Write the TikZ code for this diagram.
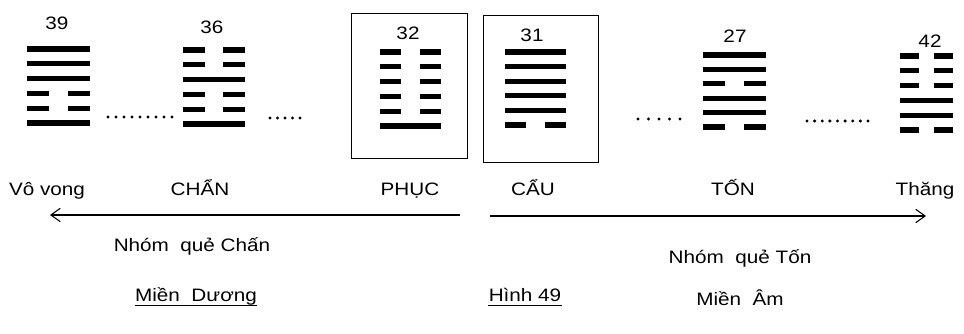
\documentclass[tikz,border=0pt]{standalone}
\usepackage{fontspec}
\setmainfont{Liberation Sans}
\usetikzlibrary{arrows.meta}
\newcommand\widetxt[1]{\scalebox{1.15}[1]{#1}}
\newcommand\hexa[5]{% #1 x left, #2 x right, #3 y top, #4 y step, #5 pattern
  \foreach \v [count=\i from 0] in {#5} {%
    \pgfmathsetmacro\yy{#3+\i*#4}%
    \pgfmathsetmacro\gl{#1+0.35*(#2-#1)}%
    \pgfmathsetmacro\gr{#1+0.65*(#2-#1)}%
    \ifnum\v=1
      \draw[yao] (#1,\yy) -- (#2,\yy);
    \else
      \draw[yao] (#1,\yy) -- (\gl,\yy);
      \draw[yao] (\gr,\yy) -- (#2,\yy);
    \fi
  }}
\newcommand\dotrow[4]{% x from, x to, y, count
  \foreach \k in {0,...,#4} {%
    \pgfmathsetmacro\xx{#1+\k*(#2-#1)/#4}%
    \fill (\xx,#3) circle (1.7);
  }}
\begin{document}
\begin{tikzpicture}[x=0.75pt,y=-0.75pt,
  yao/.style={line width=3.8pt},
  num/.style={font=\fontsize{13.5}{15}\selectfont,inner sep=0pt},
  lbl/.style={font=\fontsize{13.5}{15}\selectfont,inner sep=0pt,anchor=base},
  frame/.style={line width=0.6pt},
  arr/.style={line width=0.8pt,-{Straight Barb[length=7pt,width=10pt,line width=0.8pt]}},
  uline/.style={line width=0.7pt}]
\useasboundingbox (0,0) rectangle (964,334);
% frames
\draw[frame] (351,13) rectangle (467,158);
\draw[frame] (483,15) rectangle (598,162);
% numbers
\node[num] (n39) at (57,23) {\widetxt{39}};
\node[num] (n36) at (212,27) {\widetxt{36}};
\node[num] (n32) at (408,33) {\widetxt{32}};
\node[num] (n31) at (532,35) {\widetxt{31}};
\node[num] (n27) at (735,36) {\widetxt{27}};
\node[num] (n42) at (930,41) {\widetxt{42}};
% hexagrams
\hexa{27}{90}{49}{14.8}{1,1,1,0,0,1}
\hexa{183}{245}{50}{14.8}{0,0,1,0,0,1}
\hexa{380}{441}{52}{14.8}{0,0,0,0,0,1}
\hexa{505}{566}{52}{14.6}{1,1,1,1,1,0}
\hexa{703}{766}{55}{14.4}{1,1,0,1,1,0}
\hexa{900}{953}{56}{14.8}{0,0,0,1,1,0}
% dots
\dotrow{108}{172}{117}{8}
\dotrow{270}{300}{118}{4}
\dotrow{638}{680}{119}{4}
\dotrow{807}{868}{121}{8}
% labels
\node[lbl] (vv) at (47,196) {\widetxt{Vô vong}};
\node[lbl] (chan) at (200,196) {\widetxt{CHẨN}};
\node[lbl] (phuc) at (410,196) {\widetxt{PHỤC}};
\node[lbl] (cau) at (533,196) {\widetxt{CẨU}};
\node[lbl] (ton) at (733,196) {\widetxt{TỐN}};
\node[lbl] (thang) at (925,196) {\widetxt{Thăng}};
% arrows
\coordinate (la) at (460,215);
\coordinate (lb) at (50,215);
\coordinate (ra) at (490,216);
\coordinate (rb) at (926,216);
\draw[arr] (la) -- (lb);
\draw[arr] (ra) -- (rb);
% group labels
\node[lbl] (gchan) at (192,252) {\widetxt{Nhóm\ \ quẻ Chấn}};
\node[lbl] (gton) at (740,264) {\widetxt{Nhóm\ \ quẻ Tốn}};
\node[lbl] (mduong) at (196,302) {\widetxt{Miền\ \ Dương}};
\node[lbl] (hinh) at (525,302) {\widetxt{Hình 49}};
\node[lbl] (mam) at (740,306) {\widetxt{Miền\ \ Âm}};
\draw[uline] ([yshift=-2.5pt]mduong.base west) -- ([yshift=-2.5pt]mduong.base east);
\draw[uline] ([yshift=-2.5pt]hinh.base west) -- ([yshift=-2.5pt]hinh.base east);
\end{tikzpicture}
\end{document}
